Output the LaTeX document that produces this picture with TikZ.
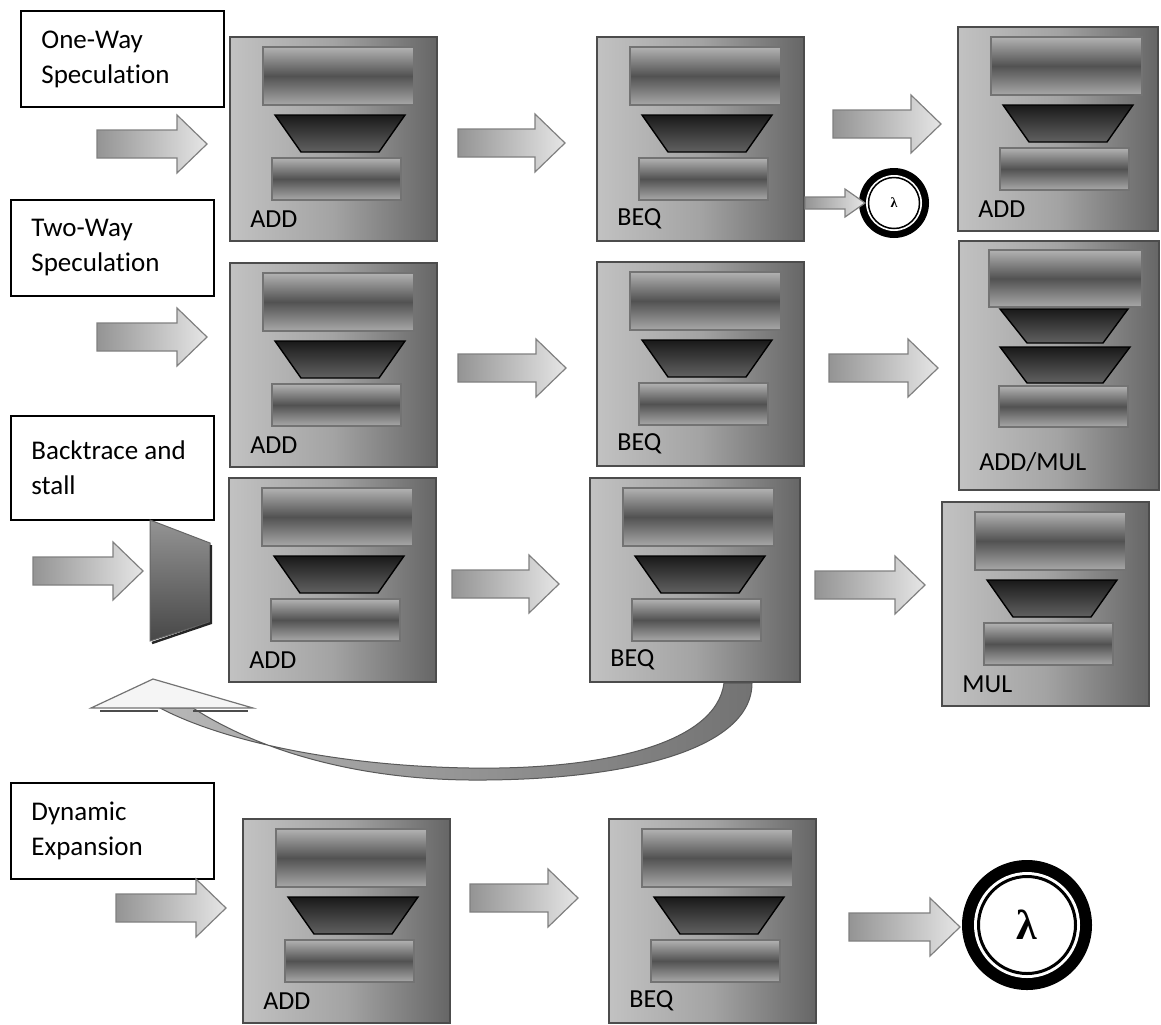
\documentclass[tikz,border=0pt]{standalone}
\usepackage{fontspec}
\setmainfont[RawFeature=-liga]{Carlito}
\newfontfamily\lamfont{Liberation Serif}

\tikzset{
  stw/.store in=\stw, stw=207,
  stagebox/.style={draw=black!70, line width=0.9pt, left color=black!24,
    right color=black!60, middle color=black!36, inner sep=0pt, anchor=north west},
  regbox/.style={draw=black!55, line width=0.7pt, top color=black!30,
    bottom color=black!34, middle color=black!68},
  alubox/.style={draw=black, line width=0.7pt, top color=black!90, bottom color=black!62},
  oplabel/.style={font=\fontsize{13}{15}\selectfont, anchor=west, inner sep=0pt},
  blockarrow/.style={draw=black!50, line width=0.6pt, left color=black!42, right color=black!10},
  labelbox/.style={draw=black, line width=1pt, anchor=north west,
    minimum width=101.5pt, minimum height=48pt, inner sep=0pt},
  labeltext/.style={anchor=west, align=left, inner sep=0pt,
    font=\fontsize{13.5}{17.5}\selectfont},
  muxstyle/.style={draw=black!60, line width=0.5pt, top color=black!42, bottom color=black!72},
  feedshaft/.style={draw=black!65, line width=0.5pt, left color=black!28, right color=black!55},
  feedhead/.style={draw=black!55, line width=0.6pt, fill=black!4},
  stage/.pic={
    \node[stagebox, minimum width={\stw*0.5pt}, minimum height=102pt] (-box) at (0,0) {};
    \path[regbox] (34,11) rectangle (185,69);
    \path[alubox] (46,79) -- (176,79) -- (150,116) -- (72,116) -- cycle;
    \path[regbox] (43,122) rectangle (172,164);
    \node[oplabel] (-op) at (21,183) {#1};
  }
}

% block arrow: start x, tip x, centre y
\newcommand\blkarrow[3]{%
  \path[blockarrow] (#1,#3-14) -- (#2-30,#3-14) -- (#2-30,#3-29) -- (#2,#3)
    -- (#2-30,#3+29) -- (#2-30,#3+14) -- (#1,#3+14) -- cycle;}

\begin{document}
\begin{tikzpicture}[x=0.5pt,y=-0.5pt]
\useasboundingbox (0,0) rectangle (1161,1024);

% mode labels
\node[labelbox] (one) at (20,10) {};
\node[labeltext] (one-text) at ([xshift=10.5pt]one.west) {One-Way\\Speculation};
\node[labelbox] (two) at (10,199) {};
\node[labeltext] (two-text) at ([xshift=10.5pt]two.west) {Two-Way\\Speculation};
\node[labelbox, minimum height=52pt] (back) at (10,415) {};
\node[labeltext] (back-text) at ([xshift=10.5pt]back.west) {Backtrace and\\stall};
\node[labelbox] (dyn) at (10,782) {};
\node[labeltext] (dyn-text) at ([xshift=10.5pt]dyn.west) {Dynamic\\Expansion};

% pipeline stages
\pic (a1) at (229,36) {stage=ADD};
\pic (b1) at (596,36) {stage=BEQ};
\pic[stw=200] (c1) at (957,26) {stage=ADD};
\pic (a2) at (229,262) {stage=ADD};
\pic (b2) at (596,261) {stage=BEQ};
\pic (a3) at (228,477) {stage=ADD};
\pic[stw=210] (b3) at (589,477) {stage=BEQ};
\pic (c3) at (941,501) {stage=MUL};
\pic (a4) at (242,818) {stage=ADD};
\pic (b4) at (608,818) {stage=BEQ};

% fused ADD/MUL stage with two ALUs
\node[stagebox, minimum width=100pt, minimum height=124.5pt] (c2) at (958,240) {};
\path[regbox] (989,250) rectangle (1142,307);
\path[alubox] (1000,309) -- (1128,309) -- (1103,343) -- (1027,343) -- cycle;
\path[alubox] (1000,347) -- (1130,347) -- (1103,383) -- (1027,383) -- cycle;
\path[regbox] (999,386) rectangle (1128,427);
\node[oplabel] (c2-op) at (979,462) {ADD/MUL};

% flow arrows
\blkarrow{97}{207}{144}
\blkarrow{458}{565}{143}
\blkarrow{833}{941}{124}
\blkarrow{97}{207}{337}
\blkarrow{458}{566}{368}
\blkarrow{829}{938}{368}
\blkarrow{33}{143}{571}
\blkarrow{452}{559}{584}
\blkarrow{815}{925}{585}
\blkarrow{116}{226}{908}
\blkarrow{470}{578}{898}
\blkarrow{849}{960}{927}

% stall multiplexer
\path[muxstyle] (150,520) -- (210,543) -- (210,622) -- (150,641) -- cycle;
\draw[black!85, line width=1.2pt] (211,545) -- (211,623) -- (152,643);

% backtrace feedback arrow
\path[feedshaft] (724,683) .. controls (716,745) and (600,770) .. (470,768)
  .. controls (340,766) and (225,742) .. (160,708) -- (193,708)
  .. controls (255,748) and (350,779) .. (470,780)
  .. controls (625,781) and (752,750) .. (752,683) -- cycle;
\path[feedhead] (91,708) -- (153,679) -- (253,708) -- cycle;
\draw[black!70, line width=1.3pt] (100,711) -- (158,711) (193,711) -- (248,711);

% halt symbols
\node[circle, fill=black, minimum size=35pt, inner sep=0pt] (halt1) at (894,203) {};
\node[circle, fill=white, minimum size=28pt, inner sep=0pt] (halt1-in) at (halt1) {};
\node[circle, draw=black, line width=0.75pt, fill=white, minimum size=25.5pt, inner sep=0pt,
  font=\lamfont\bfseries\fontsize{7}{7}\selectfont] (halt1-core) at (halt1) {λ};
\path[blockarrow] (805,197) -- (845,197) -- (845,189) -- (865,203) -- (845,217)
  -- (845,209) -- (805,209) -- cycle;

\node[circle, fill=black, minimum size=65pt, inner sep=0pt] (halt2) at (1027,925) {};
\node[circle, fill=white, minimum size=53pt, inner sep=0pt] (halt2-in) at (halt2) {};
\node[circle, draw=black, line width=1.5pt, fill=white, minimum size=48.5pt, inner sep=0pt,
  font=\lamfont\bfseries\fontsize{21}{21}\selectfont] (halt2-core) at (halt2) {λ};
\end{tikzpicture}
\end{document}
